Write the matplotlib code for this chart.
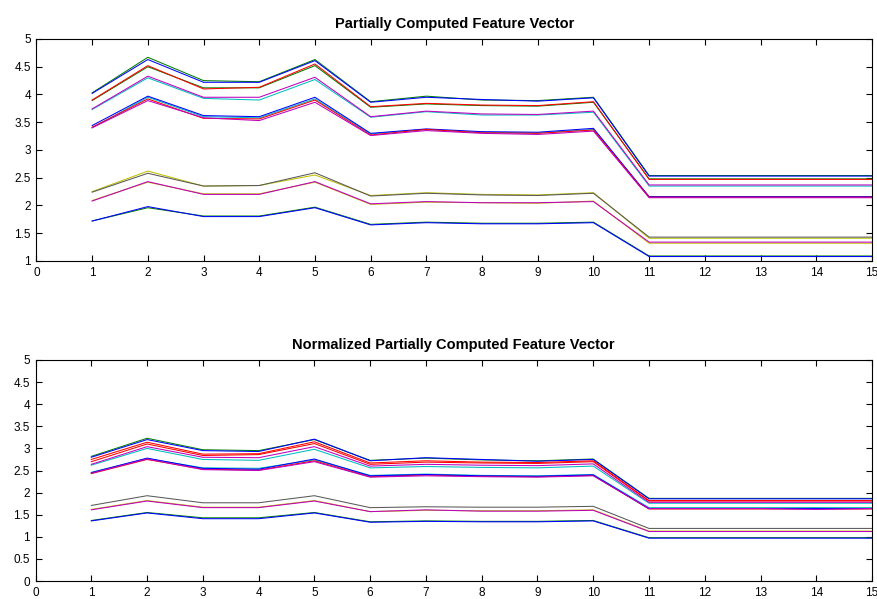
import matplotlib
matplotlib.use("Agg")
import matplotlib.pyplot as plt

plt.rcParams["font.family"] = ["Liberation Sans", "DejaVu Sans"]

x_index = list(range(1, 16))

# line colours in the classic b, g, r, c, m, y, k order
line_colors = {
    "b": (0.0, 0.0, 1.0),
    "g": (0.0, 0.5, 0.0),
    "r": (1.0, 0.0, 0.0),
    "c": (0.0, 0.75, 0.75),
    "m": (0.75, 0.0, 0.75),
    "y": (0.75, 0.75, 0.0),
    "k": (0.35, 0.35, 0.35),
}

# raw partially computed feature vectors
raw_colors = ["g", "b", "g", "r", "c", "m", "c", "b", "r", "m", "y", "k", "y", "m", "g", "b"]
raw_values = [
    [4.03, 4.67, 4.25, 4.23, 4.63, 3.87, 3.97, 3.90, 3.89, 3.95, 2.54, 2.54, 2.54, 2.54, 2.54],
    [4.02, 4.63, 4.22, 4.22, 4.61, 3.86, 3.95, 3.91, 3.88, 3.94, 2.53, 2.53, 2.53, 2.53, 2.53],
    [3.89, 4.50, 4.12, 4.12, 4.52, 3.77, 3.83, 3.80, 3.79, 3.86, 2.48, 2.48, 2.48, 2.48, 2.48],
    [3.90, 4.52, 4.10, 4.13, 4.55, 3.78, 3.84, 3.81, 3.80, 3.87, 2.47, 2.47, 2.47, 2.47, 2.47],
    [3.73, 4.30, 3.93, 3.90, 4.27, 3.59, 3.69, 3.63, 3.63, 3.68, 2.35, 2.35, 2.35, 2.35, 2.35],
    [3.74, 4.33, 3.95, 3.95, 4.31, 3.60, 3.70, 3.65, 3.64, 3.70, 2.37, 2.37, 2.37, 2.37, 2.37],
    [3.40, 3.95, 3.60, 3.58, 3.92, 3.29, 3.37, 3.32, 3.31, 3.37, 2.15, 2.15, 2.15, 2.15, 2.15],
    [3.44, 3.97, 3.62, 3.60, 3.95, 3.30, 3.38, 3.33, 3.32, 3.39, 2.16, 2.16, 2.16, 2.16, 2.16],
    [3.41, 3.92, 3.57, 3.56, 3.90, 3.27, 3.37, 3.31, 3.30, 3.36, 2.15, 2.15, 2.15, 2.15, 2.15],
    [3.40, 3.89, 3.58, 3.53, 3.86, 3.26, 3.35, 3.30, 3.28, 3.34, 2.14, 2.14, 2.14, 2.14, 2.14],
    [2.25, 2.62, 2.35, 2.36, 2.55, 2.18, 2.23, 2.20, 2.19, 2.23, 1.41, 1.41, 1.41, 1.41, 1.41],
    [2.24, 2.58, 2.35, 2.36, 2.59, 2.17, 2.22, 2.19, 2.18, 2.22, 1.43, 1.43, 1.43, 1.43, 1.43],
    [2.09, 2.42, 2.21, 2.21, 2.42, 2.02, 2.06, 2.05, 2.04, 2.08, 1.32, 1.32, 1.32, 1.32, 1.32],
    [2.08, 2.43, 2.20, 2.20, 2.43, 2.03, 2.07, 2.05, 2.05, 2.07, 1.34, 1.34, 1.34, 1.34, 1.34],
    [1.72, 1.96, 1.81, 1.81, 1.97, 1.66, 1.70, 1.68, 1.68, 1.70, 1.09, 1.09, 1.09, 1.09, 1.09],
    [1.72, 1.98, 1.80, 1.80, 1.96, 1.65, 1.69, 1.67, 1.67, 1.69, 1.08, 1.08, 1.08, 1.08, 1.08],
]

# the same vectors after normalisation
norm_colors = ["g", "b", "r", "r", "c", "m", "c", "r", "b", "m", "y", "m", "k", "g", "b"]
norm_values = [
    [2.82, 3.23, 2.97, 2.95, 3.20, 2.73, 2.78, 2.74, 2.72, 2.76, 1.87, 1.87, 1.87, 1.87, 1.87],
    [2.80, 3.20, 2.95, 2.93, 3.21, 2.72, 2.79, 2.75, 2.71, 2.75, 1.86, 1.86, 1.86, 1.86, 1.86],
    [2.75, 3.14, 2.87, 2.88, 3.15, 2.67, 2.72, 2.69, 2.68, 2.72, 1.82, 1.82, 1.82, 1.82, 1.82],
    [2.70, 3.10, 2.84, 2.86, 3.11, 2.64, 2.69, 2.67, 2.66, 2.70, 1.81, 1.81, 1.81, 1.81, 1.81],
    [2.62, 3.00, 2.75, 2.73, 2.98, 2.56, 2.59, 2.57, 2.56, 2.60, 1.76, 1.76, 1.76, 1.76, 1.76],
    [2.64, 3.04, 2.80, 2.79, 3.04, 2.60, 2.64, 2.62, 2.61, 2.65, 1.78, 1.78, 1.78, 1.78, 1.78],
    [2.46, 2.77, 2.56, 2.55, 2.74, 2.39, 2.42, 2.39, 2.38, 2.41, 1.66, 1.66, 1.66, 1.66, 1.66],
    [2.43, 2.75, 2.53, 2.51, 2.72, 2.36, 2.40, 2.37, 2.36, 2.39, 1.63, 1.63, 1.63, 1.63, 1.63],
    [2.45, 2.78, 2.55, 2.53, 2.76, 2.38, 2.41, 2.38, 2.37, 2.40, 1.64, 1.64, 1.64, 1.64, 1.64],
    [2.44, 2.76, 2.52, 2.50, 2.70, 2.35, 2.38, 2.36, 2.35, 2.38, 1.64, 1.64, 1.64, 1.62, 1.64],
    [1.62, 1.82, 1.67, 1.67, 1.82, 1.57, 1.60, 1.59, 1.59, 1.61, 1.13, 1.13, 1.13, 1.13, 1.13],
    [1.61, 1.81, 1.66, 1.66, 1.81, 1.57, 1.61, 1.58, 1.58, 1.60, 1.12, 1.12, 1.12, 1.12, 1.12],
    [1.71, 1.93, 1.77, 1.77, 1.93, 1.66, 1.68, 1.67, 1.67, 1.69, 1.19, 1.19, 1.19, 1.19, 1.19],
    [1.37, 1.55, 1.43, 1.43, 1.55, 1.34, 1.36, 1.35, 1.35, 1.37, 0.98, 0.98, 0.98, 0.98, 0.98],
    [1.36, 1.54, 1.41, 1.41, 1.54, 1.33, 1.35, 1.34, 1.34, 1.36, 0.97, 0.97, 0.97, 0.97, 0.97],
]


def draw_panel(ax, series, colors, title, ymin):
    for values, key in zip(series, colors):
        ax.plot(x_index, values, color=line_colors[key], linewidth=0.75)
    ax.set_xlim(0, 15)
    ax.set_ylim(ymin, 5)
    ax.set_xticks(range(0, 16))
    ax.set_yticks([ymin + 0.5 * i for i in range(int((5 - ymin) / 0.5) + 1)])
    ax.set_yticklabels([f"{v:g}" for v in ax.get_yticks()])
    ax.tick_params(direction="in", top=True, right=True, length=4,
                   width=0.8, labelsize=8.5, pad=4)
    for spine in ax.spines.values():
        spine.set_linewidth(0.8)
    ax.set_title(title, fontsize=10.5, fontweight="bold", pad=8)


fig = plt.figure(figsize=(8.78, 5.99), dpi=100)
ax_top = fig.add_axes([0.0415, 0.5643, 0.9516, 0.3706])
ax_bottom = fig.add_axes([0.0405, 0.0300, 0.9527, 0.3690])

draw_panel(ax_top, raw_values, raw_colors, "Partially Computed Feature Vector", 1)
draw_panel(ax_bottom, norm_values, norm_colors, "Normalized Partially Computed Feature Vector", 0)

fig.savefig("out.png", dpi=100)
